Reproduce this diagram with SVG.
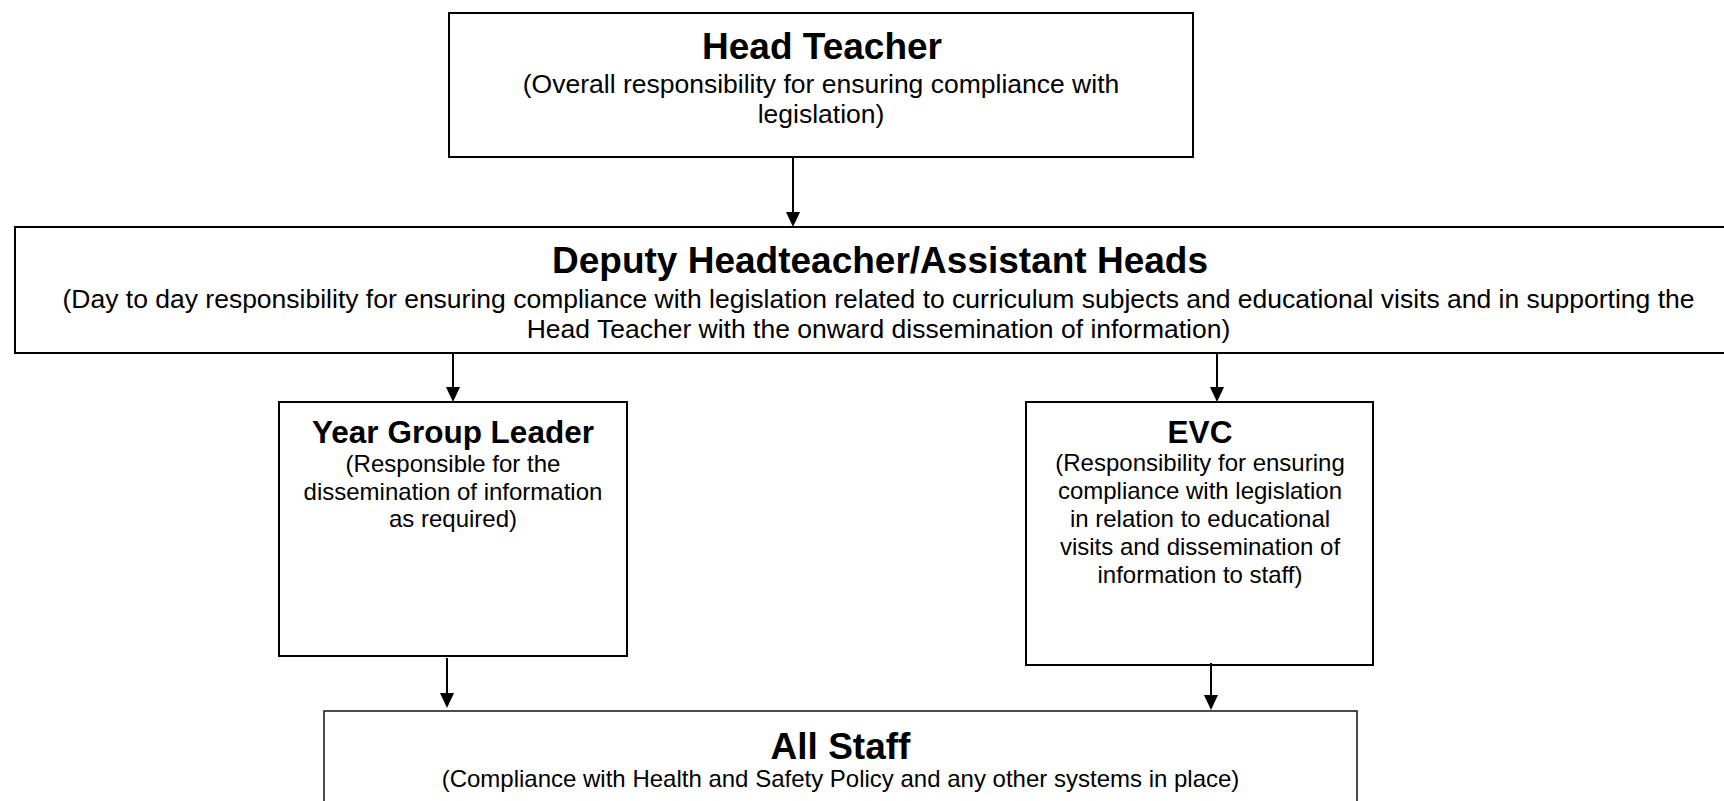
<svg xmlns="http://www.w3.org/2000/svg" width="1724" height="801" viewBox="0 0 1724 801">
<style>
.box{fill:#fff;stroke:#000;stroke-width:2}
.thin{fill:#fff;stroke:#111;stroke-width:1.5}
.t{font-family:"Liberation Sans",Arial,sans-serif;font-weight:bold;text-anchor:middle;fill:#000}
.s{font-family:"Liberation Sans",Arial,sans-serif;text-anchor:middle;fill:#000}
.c{stroke:#000;stroke-width:2;fill:none;marker-end:url(#ah)}
</style>
<defs>
<marker id="ah" viewBox="0 0 15 14" refX="7" refY="7" markerWidth="15" markerHeight="14" markerUnits="userSpaceOnUse" orient="auto">
<path d="M0,0 L15,7 L0,14 z" fill="#000"/>
</marker>
</defs>
<g id="head-teacher">
<rect class="box" x="449" y="13" width="744" height="144"/>
<text class="t" x="822" y="59" font-size="37">Head Teacher</text>
<text class="s" x="821" y="93" font-size="26.5">(Overall responsibility for ensuring compliance with</text>
<text class="s" x="821" y="123" font-size="26.5">legislation)</text>
</g>
<g id="deputy">
<rect class="box" x="15" y="227" width="1727" height="126"/>
<text class="t" x="880" y="273" font-size="37">Deputy Headteacher/Assistant Heads</text>
<text class="s" x="878.5" y="308" font-size="26.5">(Day to day responsibility for ensuring compliance with legislation related to curriculum subjects and educational visits and in supporting the</text>
<text class="s" x="878.5" y="338" font-size="26.5">Head Teacher with the onward dissemination of information)</text>
</g>
<g id="year-group-leader">
<rect class="box" x="279" y="402" width="348" height="254"/>
<text class="t" x="453" y="443" font-size="31.5">Year Group Leader</text>
<text class="s" x="453" y="472" font-size="24">(Responsible for the</text>
<text class="s" x="453" y="500" font-size="24">dissemination of information</text>
<text class="s" x="453" y="527" font-size="24">as required)</text>
</g>
<g id="evc">
<rect class="box" x="1026" y="402" width="347" height="263"/>
<text class="t" x="1200" y="443" font-size="31.5">EVC</text>
<text class="s" x="1200" y="471" font-size="24">(Responsibility for ensuring</text>
<text class="s" x="1200" y="499" font-size="24">compliance with legislation</text>
<text class="s" x="1200" y="527" font-size="24">in relation to educational</text>
<text class="s" x="1200" y="555" font-size="24">visits and dissemination of</text>
<text class="s" x="1200" y="583" font-size="24">information to staff)</text>
</g>
<g id="all-staff">
<rect class="thin" x="324" y="711" width="1033" height="110"/>
<text class="t" x="840.5" y="759" font-size="37">All Staff</text>
<text class="s" x="840.5" y="787" font-size="24">(Compliance with Health and Safety Policy and any other systems in place)</text>
</g>
<g id="connectors">
<line class="c" x1="793" y1="158" x2="793" y2="219"/>
<line class="c" x1="453" y1="354" x2="453" y2="394"/>
<line class="c" x1="1217" y1="354" x2="1217" y2="394"/>
<line class="c" x1="447" y1="658" x2="447" y2="700"/>
<line class="c" x1="1211" y1="663" x2="1211" y2="702"/>
</g>
</svg>
